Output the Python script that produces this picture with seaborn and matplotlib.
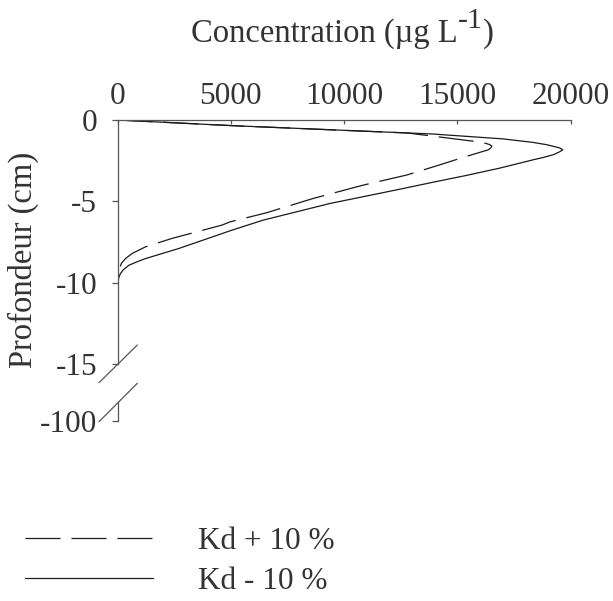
import numpy as np
import pandas as pd
import matplotlib
matplotlib.use("Agg")
import matplotlib.pyplot as plt
from matplotlib.lines import Line2D
import seaborn as sns

# ---- data ----
depth_minus = [0, -0.35, -0.86, -1.16, -1.37, -1.52, -1.62, -1.72, -1.83, -1.95, -2.13,
               -2.30, -2.44, -2.95, -3.40, -3.82, -4.25, -5.13, -6.15, -6.77, -7.9,
               -8.52, -8.75, -8.93, -9.2, -9.45, -9.7, -9.97, -10.3, -15]
conc_minus = [0, 5100, 13900, 17000, 18300, 18950, 19240, 19520, 19650, 19520, 19240,
              18800, 18360, 16890, 15420, 13940, 12470, 9380, 6440, 5050, 2700,
              1230, 800, 500, 260, 125, 55, 20, 0, 0]

depth_plus = [0, -0.35, -0.80, -1.10, -1.37, -1.50, -1.60, -1.70, -1.83, -2.29, -2.75,
              -3.38, -4.0, -4.82, -5.7, -6.26, -6.46, -7.28, -7.8, -8.2, -8.52, -8.8,
              -9.1, -9.45, -9.8, -10.3, -15]
conc_plus = [0, 5100, 12800, 14530, 16080, 16400, 16520, 16480, 16370, 15270, 14240,
             12770, 10850, 8640, 6580, 4970, 4610, 2400, 1230, 650, 350, 180,
             90, 40, 10, 0, 0]

series_labels = ["Kd + 10 %", "Kd - 10 %"]
x_ticks = [0, 5000, 10000, 15000, 20000]
y_ticks = [0, -5, -10, -15]
y_tick_low = [-100]

df = pd.concat([
    pd.DataFrame({"conc": conc_plus, "depth": depth_plus, "serie": series_labels[0]}),
    pd.DataFrame({"conc": conc_minus, "depth": depth_minus, "serie": series_labels[1]}),
])

sns.set_style("white")
plt.rcParams["font.family"] = ["Liberation Serif", "DejaVu Serif"]
plt.rcParams["lines.scale_dashes"] = False
plt.rcParams["axes.unicode_minus"] = False

TXT = "#333333"
SP = "#555555"
FS = 22.5
FS_T = 23.5

W, H = 613, 601
fig = plt.figure(figsize=(W / 100, H / 100), dpi=100)

def fx(px):
    return px / W

def fy(py):
    return 1 - py / H

x0, x1 = 117.5, 570.7
y0 = 120.0
ppc = 16.27
y15 = y0 + 15 * ppc
ax1 = fig.add_axes([fx(x0), fy(y15), fx(x1) - fx(x0), fy(y0) - fy(y15)])
ax2 = fig.add_axes([fx(x0), fy(421), fx(x1) - fx(x0), fy(402) - fy(421)])

sns.lineplot(data=df, x="conc", y="depth", style="serie", sort=False, estimator=None,
             orient="y", dashes={series_labels[0]: (25.2, 7.9), series_labels[1]: ""},
             color="#1a1a1a", linewidth=0.9, ax=ax1, legend=False)

ax1.set_xlim(0, 20000)
ax1.set_ylim(-15, 0)
ax1.xaxis.tick_top()
ax1.set_xticks(x_ticks)
ax1.set_xticklabels([str(v) for v in x_ticks])
ax1.set_yticks(y_ticks)
ax1.set_yticklabels([str(v) for v in y_ticks])
ax1.set_xlabel("")
ax1.set_ylabel("")
for s in ["right", "bottom"]:
    ax1.spines[s].set_visible(False)
for s in ["top", "left"]:
    ax1.spines[s].set_color(SP)
    ax1.spines[s].set_linewidth(0.9)
ax1.tick_params(axis="x", which="both", top=True, bottom=False, direction="in",
                length=3, width=0.9, color=SP, labelsize=FS, labelcolor=TXT, pad=6.5)
ax1.tick_params(axis="y", left=True, direction="out", length=4, width=0.9,
                color=SP, labelsize=FS, labelcolor=TXT, pad=10.5)

ax2.set_xlim(0, 20000)
ax2.set_ylim(-100, -100 + 19 / ppc)
ax2.set_xticks([])
ax2.set_yticks(y_tick_low)
ax2.set_yticklabels([str(v) for v in y_tick_low])
for s in ["right", "bottom", "top"]:
    ax2.spines[s].set_visible(False)
ax2.spines["left"].set_color(SP)
ax2.spines["left"].set_linewidth(0.9)
ax2.tick_params(axis="y", left=True, direction="out", length=4, width=0.9,
                color=SP, labelsize=FS, labelcolor=TXT, pad=10.5)
ax2.patch.set_alpha(0)

# axis break marks
for (xa, ya, xb, yb) in [(99, 382.7, 137.3, 345), (99, 421.7, 137.3, 383.3)]:
    fig.add_artist(Line2D([fx(xa), fx(xb)], [fy(ya), fy(yb)], color=SP, lw=0.9,
                          transform=fig.transFigure))

# title with a hyphen superscript, built from three text pieces
r = fig.canvas.get_renderer()
base = fy(42)
t1 = fig.text(0, base, "Concentration (µg L", va="baseline", ha="left",
              fontsize=FS_T, color=TXT)
t2 = fig.text(0, base + 14 / H, "-1", va="baseline", ha="left", fontsize=FS_T * 0.92,
              color=TXT)
t3 = fig.text(0, base, ")", va="baseline", ha="left", fontsize=FS_T, color=TXT)
w1 = t1.get_window_extent(r).width
w2 = t2.get_window_extent(r).width
w3 = t3.get_window_extent(r).width
start = 342.5 - (w1 + w2 + w3) / 2
t1.set_x(fx(start))
t2.set_x(fx(start + w1))
t3.set_x(fx(start + w1 + w2))

fig.text(fx(23), fy(260), "Profondeur (cm)", rotation=90, ha="center", va="center",
         fontsize=FS_T, color=TXT)

handles = ax1.get_lines()[:2]
leg = fig.legend(handles, series_labels, loc="upper left",
                 bbox_to_anchor=(fx(25), fy(527)), frameon=False, fontsize=FS,
                 handlelength=4.1, handletextpad=1.45, labelspacing=0.36,
                 borderpad=0, borderaxespad=0)
for t in leg.get_texts():
    t.set_color(TXT)

fig.savefig("out.png", dpi=100)
